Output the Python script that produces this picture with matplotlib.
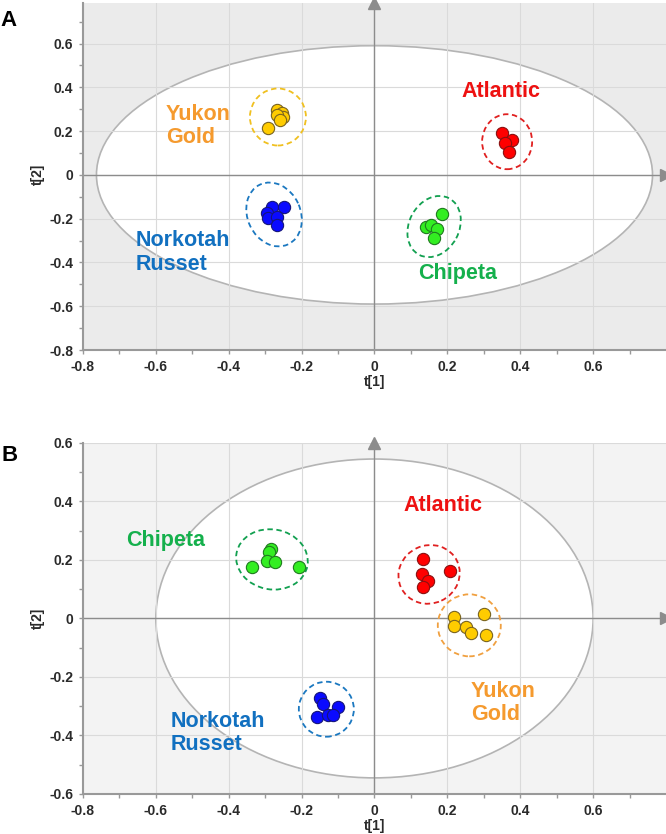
import numpy as np
import matplotlib.pyplot as plt
from matplotlib.patches import Ellipse
from matplotlib.transforms import ScaledTranslation

plt.rcParams['font.family'] = ['Liberation Sans', 'DejaVu Sans']

# ---- data (t[1], t[2]) ----
groups = ['Atlantic', 'Chipeta', 'Norkotah Russet', 'Yukon Gold']

# panel A
a_t1 = {
    'Atlantic': [0.350, 0.378, 0.359, 0.369],
    'Chipeta': [0.186, 0.142, 0.156, 0.172, 0.162],
    'Norkotah Russet': [-0.281, -0.248, -0.296, -0.293, -0.268, -0.268],
    'Yukon Gold': [-0.267, -0.255, -0.250, -0.268, -0.258, -0.292],
}
a_t2 = {
    'Atlantic': [0.193, 0.160, 0.147, 0.106],
    'Chipeta': [-0.179, -0.236, -0.228, -0.248, -0.289],
    'Norkotah Russet': [-0.145, -0.149, -0.175, -0.195, -0.193, -0.228],
    'Yukon Gold': [0.297, 0.282, 0.266, 0.274, 0.251, 0.216],
}
a_hotelling = (0.763, 0.59)   # semi axes of the T2 ellipse

# panel B
b_t1 = {
    'Atlantic': [0.132, 0.207, 0.130, 0.146, 0.134],
    'Chipeta': [-0.337, -0.285, -0.290, -0.296, -0.273, -0.207],
    'Norkotah Russet': [-0.150, -0.142, -0.159, -0.127, -0.101, -0.114],
    'Yukon Gold': [0.219, 0.301, 0.219, 0.251, 0.265, 0.306],
}
b_t2 = {
    'Atlantic': [0.202, 0.163, 0.151, 0.128, 0.109],
    'Chipeta': [0.177, 0.237, 0.228, 0.198, 0.194, 0.177],
    'Norkotah Russet': [-0.273, -0.291, -0.336, -0.330, -0.302, -0.330],
    'Yukon Gold': [0.005, 0.015, -0.026, -0.028, -0.051, -0.056],
}
b_hotelling = (0.60, 0.545)

# ---- styling ----
face = {'Atlantic': '#ff0000', 'Chipeta': '#33ee22',
        'Norkotah Russet': '#0a0aff', 'Yukon Gold': '#ffcc00'}
edge = {'Atlantic': '#8a1010', 'Chipeta': '#1f7a1f',
        'Norkotah Russet': '#15157a', 'Yukon Gold': '#7a6420'}
text_col = {'Atlantic': '#ee1111', 'Chipeta': '#14b04c',
            'Norkotah Russet': '#1170c0', 'Yukon Gold': '#f59a2e'}
ring_col_a = {'Atlantic': '#e02020', 'Chipeta': '#12a050',
              'Norkotah Russet': '#1b78c0', 'Yukon Gold': '#f0c020'}
ring_col_b = dict(ring_col_a, **{'Yukon Gold': '#f0a040'})
names = {'Atlantic': 'Atlantic', 'Chipeta': 'Chipeta',
         'Norkotah Russet': 'Norkotah\nRusset', 'Yukon Gold': 'Yukon\nGold'}

# ring size (pixels: width, height, angle) and label placement per panel
rings_a = {'Atlantic': (50, 55, 0), 'Chipeta': (64, 50, 62),
           'Norkotah Russet': (66, 53, 115), 'Yukon Gold': (56, 57, 0)}
rings_b = {'Atlantic': (62, 58, 25), 'Chipeta': (72, 60, -10),
           'Norkotah Russet': (55, 55, 0), 'Yukon Gold': (63, 62, 0)}
labels_a = {'Atlantic': (0.347, 0.38, 'center'), 'Chipeta': (0.228, -0.449, 'center'),
            'Norkotah Russet': (-0.655, -0.354, 'left'), 'Yukon Gold': (-0.572, 0.224, 'left')}
labels_b = {'Atlantic': (0.187, 0.385, 'center'), 'Chipeta': (-0.573, 0.268, 'center'),
            'Norkotah Russet': (-0.559, -0.391, 'left'), 'Yukon Gold': (0.265, -0.29, 'left')}


def score_panel(fig, ax, t1, t2, hot, rings, rings_col, labels, bg, ylim):
    ax.set_facecolor(bg)
    ax.set_xlim(-0.8, 0.8)
    ax.set_ylim(*ylim)
    ax.set_axisbelow(True)
    ax.add_patch(Ellipse((0, 0), 2 * hot[0], 2 * hot[1], facecolor='white',
                         edgecolor='#b4b4b4', lw=1.2, zorder=0.2))
    ax.grid(True, color='#dadada', lw=0.8)
    ax.axhline(0, color='#8c8c8c', lw=1.0, zorder=0.6)
    ax.axvline(0, color='#8c8c8c', lw=1.0, zorder=0.6)

    for g in groups:
        x = np.array(t1[g])
        y = np.array(t2[g])
        w, h, ang = rings[g]
        tr = fig.dpi_scale_trans + ScaledTranslation(x.mean(), y.mean(), ax.transData)
        ax.add_patch(Ellipse((0, 0), w / 100, h / 100, angle=ang, transform=tr,
                             fill=False, edgecolor=rings_col[g], lw=1.3,
                             linestyle=(0, (3, 2)), zorder=3))
        ax.scatter(x, y, s=78, c=face[g], edgecolors=edge[g], linewidths=0.8,
                   zorder=4)
        lx, ly, ha = labels[g]
        ax.text(lx, ly, names[g], color=text_col[g], fontsize=15.5,
                fontweight='bold', ha=ha, va='center', linespacing=1.15)

    ax.set_xticks(np.arange(-0.8, 0.61, 0.2))
    ax.set_xticks(np.arange(-0.8, 0.8, 0.1), minor=True)
    yt = np.arange(ylim[0], 0.61, 0.2)
    ax.set_yticks(yt)
    ax.set_yticks(np.arange(ylim[0], ylim[1], 0.1), minor=True)
    ax.set_xticklabels(['0' if abs(v) < 1e-9 else '%.1f' % v for v in ax.get_xticks()])
    ax.set_yticklabels(['0' if abs(v) < 1e-9 else '%.1f' % v for v in yt])
    ax.tick_params(which='both', color='#999999', length=3, width=1,
                   labelsize=10, labelcolor='#2a2a2a', pad=4)
    for lab in ax.get_xticklabels() + ax.get_yticklabels():
        lab.set_fontweight('bold')
    for s in ['top', 'right']:
        ax.spines[s].set_visible(False)
    for s in ['left', 'bottom']:
        ax.spines[s].set_color('#999999')
        ax.spines[s].set_linewidth(1.5)
    ax.plot(1, 0, '>', color='#8c8c8c', ms=8, transform=ax.get_yaxis_transform(),
            clip_on=False, zorder=5)
    ax.plot(0, 1, '^', color='#8c8c8c', ms=8, transform=ax.get_xaxis_transform(),
            clip_on=False, zorder=5)
    ax.set_xlabel('t[1]', fontsize=10, fontweight='bold', color='#2a2a2a')
    ax.xaxis.set_label_coords(0.8 / 1.6, -0.072)
    ax.set_ylabel('t[2]', fontsize=10, fontweight='bold', color='#2a2a2a')
    ax.yaxis.set_label_coords(-0.066, (0 - ylim[0]) / (ylim[1] - ylim[0]))


fig = plt.figure(figsize=(6.66, 8.34), dpi=100)
ax_a = fig.add_axes([0.1246, 0.5803, 0.8754, 0.4161])
ax_b = fig.add_axes([0.1246, 0.0480, 0.8754, 0.4209])

score_panel(fig, ax_a, a_t1, a_t2, a_hotelling, rings_a, ring_col_a, labels_a,
            '#ebebeb', (-0.8, 0.785))
score_panel(fig, ax_b, b_t1, b_t2, b_hotelling, rings_b, ring_col_b, labels_b,
            '#f3f3f3', (-0.6, 0.6))

fig.text(0.0, 0.988, 'A', fontsize=16, fontweight='bold', va='top')
fig.text(0.003, 0.466, 'B', fontsize=16, fontweight='bold', va='top')

fig.savefig('out.png', dpi=100)
